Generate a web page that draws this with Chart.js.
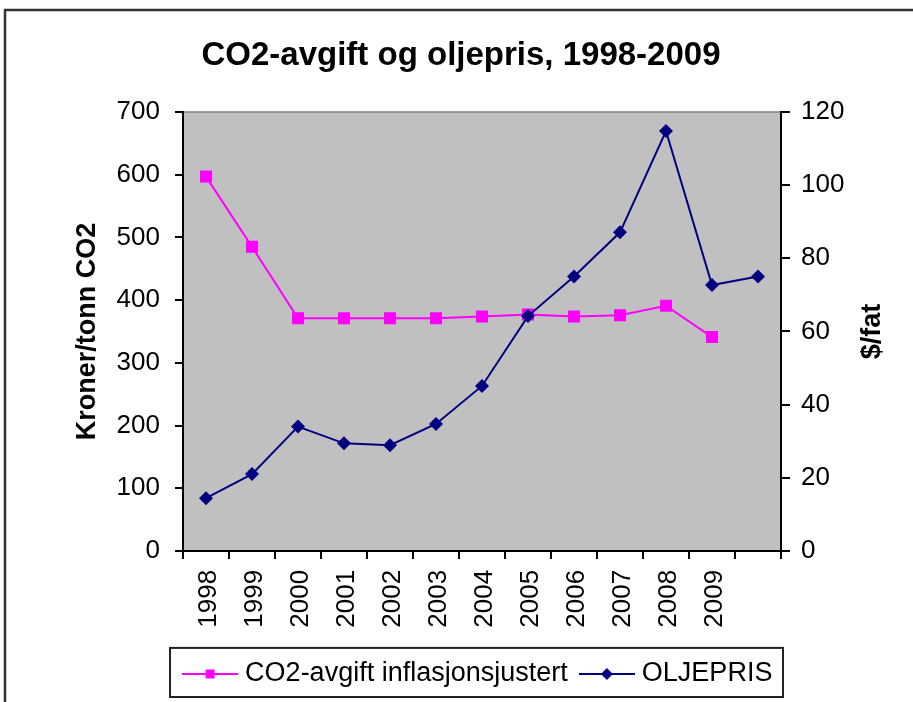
<!DOCTYPE html>
<html>
<head>
<meta charset="utf-8">
<script src="https://cdn.jsdelivr.net/npm/chart.js@4/dist/chart.umd.min.js"></script>
<style>
  html, body { margin: 0; padding: 0; background: #fff; }
  #wrap { width: 913px; height: 702px; }
</style>
</head>
<body>
<div id="wrap"><canvas id="c" width="913" height="702"></canvas></div>
<script>
// ---- data ----
const chartTitle = 'CO2-avgift og oljepris, 1998-2009';
const categories = ['1998','1999','2000','2001','2002','2003','2004','2005','2006','2007','2008','2009',''];
const co2Label = 'CO2-avgift inflasjonsjustert';
const co2Values = [597, 485, 371, 371, 371, 371, 374, 377, 374, 376, 391, 341, null];
const oilLabel = 'OLJEPRIS';
const oilValues = [14.4, 21.0, 34.0, 29.4, 28.9, 34.7, 45.1, 64.2, 75.0, 87.1, 114.8, 72.7, 75.0];
const leftTitle = 'Kroner/tonn CO2';
const rightTitle = '$/fat';
const leftTicks = { min: 0, max: 700, step: 100 };
const rightTicks = { min: 0, max: 120, step: 20 };

const FONT = "'Liberation Sans', Arial, sans-serif";
Chart.defaults.font.family = FONT;
Chart.defaults.color = '#000';

const PINK = '#FF00FF';
const NAVY = '#000080';

function makeIcon(color, kind) {
  const cv = document.createElement('canvas');
  cv.width = 56; cv.height = 20;
  const g = cv.getContext('2d');
  g.strokeStyle = color; g.lineWidth = 2;
  g.beginPath(); g.moveTo(0, 10); g.lineTo(56, 10); g.stroke();
  g.fillStyle = color;
  if (kind === 'rect') {
    g.fillRect(28 - 4.5, 10 - 4.5, 9, 9);
  } else {
    g.beginPath();
    g.moveTo(28 - 6, 10); g.lineTo(28, 4); g.lineTo(28 + 6, 10); g.lineTo(28, 16);
    g.closePath(); g.fill();
  }
  return cv;
}
const legendIcons = [makeIcon(PINK, 'rect'), makeIcon(NAVY, 'diamond')];

const decor = {
  id: 'decor',
  afterLayout(chart) {
    // centre the legend under the plot area instead of the whole canvas
    const lg = chart.legend, a = chart.chartArea;
    const shift = (a.left + a.right) / 2 - (lg.left + lg.right) / 2 - 1.5;
    lg.left += shift; lg.right += shift;
  },
  beforeDraw(chart) {
    const ctx = chart.ctx, a = chart.chartArea;
    ctx.save();
    ctx.fillStyle = '#fff';
    ctx.fillRect(0, 0, chart.width, chart.height);
    // outer frame
    ctx.strokeStyle = '#333';
    ctx.lineWidth = 2.5;
    ctx.beginPath();
    ctx.moveTo(5, chart.height + 5);
    ctx.lineTo(5, 10);
    ctx.lineTo(chart.width + 5, 10);
    ctx.stroke();
    // plot area
    ctx.fillStyle = '#C0C0C0';
    ctx.fillRect(a.left, a.top, a.right - a.left, a.bottom - a.top);
    ctx.strokeStyle = '#808080';
    ctx.lineWidth = 1.5;
    ctx.beginPath();
    ctx.moveTo(a.left, a.top);
    ctx.lineTo(a.right, a.top);
    ctx.stroke();
    ctx.restore();
  },
  afterDraw(chart) {
    const ctx = chart.ctx, a = chart.chartArea, lg = chart.legend;
    ctx.save();
    // legend frame
    ctx.strokeStyle = '#222';
    ctx.lineWidth = 2;
    ctx.strokeRect(a.left - 13, lg.top + 5, (a.right + 2) - (a.left - 13), lg.bottom - lg.top - 5.5);
    // right axis title (reads bottom to top)
    const s = chart.scales.y1;
    ctx.translate(s.right - 30, (a.top + a.bottom) / 2);
    ctx.rotate(-Math.PI / 2);
    ctx.font = 'bold 27px ' + FONT;
    ctx.fillStyle = '#000';
    ctx.textAlign = 'center';
    ctx.textBaseline = 'middle';
    ctx.fillText(rightTitle, 0, 0);
    ctx.restore();
  }
};

new Chart(document.getElementById('c'), {
  type: 'line',
  data: {
    labels: categories,
    datasets: [
      {
        label: co2Label, data: co2Values, yAxisID: 'y', order: 2,
        borderColor: PINK, backgroundColor: PINK, borderWidth: 2,
        pointStyle: 'rect', pointRadius: 8.5, pointBorderWidth: 0,
        pointBackgroundColor: PINK, tension: 0, spanGaps: false
      },
      {
        label: oilLabel, data: oilValues, yAxisID: 'y1', order: 1,
        borderColor: NAVY, backgroundColor: NAVY, borderWidth: 2,
        pointStyle: 'rectRot', pointRadius: 7, pointBorderWidth: 0,
        pointBackgroundColor: NAVY, tension: 0
      }
    ]
  },
  options: {
    responsive: false,
    animation: false,
    devicePixelRatio: 1,
    layout: { padding: { left: 19, right: 10, top: 0, bottom: 4.5 } },
    plugins: {
      tooltip: { enabled: false },
      title: {
        display: true, text: chartTitle, color: '#000',
        font: { size: 33, weight: 'bold' },
        padding: { top: 36.2, bottom: 36.2 }
      },
      legend: {
        position: 'bottom',
        fullSize: true,
        labels: {
          usePointStyle: true,
          pointStyleWidth: 43,
          color: '#000',
          font: { size: 27 },
          padding: 17.6,
          sort: (a, b) => a.datasetIndex - b.datasetIndex,
          generateLabels(chart) {
            const items = Chart.defaults.plugins.legend.labels.generateLabels(chart);
            items.forEach((it) => { it.pointStyle = legendIcons[it.datasetIndex]; it.rotation = 0; });
            return items;
          }
        }
      }
    },
    scales: {
      x: {
        type: 'category',
        offset: true,
        grid: { offset: true, drawOnChartArea: false, drawTicks: true, tickLength: 8, color: '#000', lineWidth: 2 },
        border: { color: '#000', width: 2 },
        ticks: { autoSkip: false, minRotation: 90, maxRotation: 90, padding: 11, labelOffset: 3, font: { size: 26 }, color: '#000' },
        afterFit(s) { s.height = 92; }
      },
      y: {
        position: 'left',
        min: leftTicks.min, max: leftTicks.max,
        ticks: { stepSize: leftTicks.step, padding: 15, font: { size: 26 }, color: '#000' },
        grid: { drawOnChartArea: false, tickLength: 8, color: '#000', lineWidth: 2 },
        border: { color: '#000', width: 2 },
        title: { display: true, text: leftTitle, color: '#000', font: { size: 27, weight: 'bold' }, padding: { top: 52.8, bottom: 0 } },
        afterFit(s) { s.width = 164; }
      },
      y1: {
        position: 'right',
        min: rightTicks.min, max: rightTicks.max,
        ticks: { stepSize: rightTicks.step, padding: 11, font: { size: 26 }, color: '#000' },
        grid: { drawOnChartArea: false, tickLength: 9, color: '#000', lineWidth: 2 },
        border: { color: '#000', width: 2 },
        afterFit(s) { s.width = 122; }
      }
    }
  },
  plugins: [decor]
});
</script>
</body>
</html>
